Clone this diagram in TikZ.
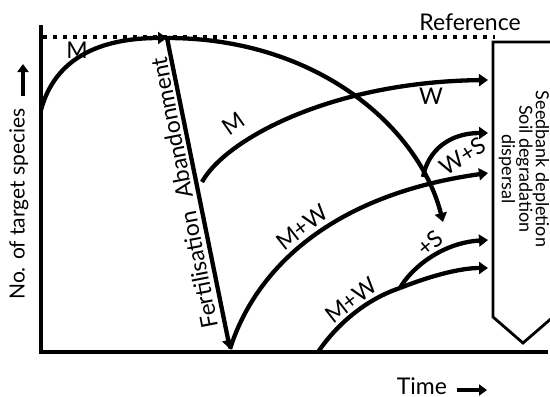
\documentclass[tikz,border=0pt]{standalone}
\usepackage{fontspec}
\setmainfont{Lato}
\usetikzlibrary{arrows.meta}

\begin{document}
\begin{tikzpicture}[x=1pt,y=-1pt,
	crv/.style={line width=4.3pt},
	arr/.style={-{Triangle[length=9pt,width=12pt]}},
	lbl/.style={font=\fontsize{23}{27}\selectfont,inner sep=0pt},
	boxtext/.style={font=\fontsize{18}{16.5}\selectfont,inner sep=0pt,align=center}]

		\useasboundingbox (0,0) rectangle (550,397);
		\clip (0,0) rectangle (550,397);

		\coordinate (T) at (41,25);
		\coordinate (O) at (41,352);
		\coordinate (R) at (548,352);

		\draw [line width=4.5pt] (T) -- (O) -- (R);

		\coordinate (RefL) at (43,37);
		\coordinate (RefR) at (495,37);
		\draw [line width=3.5pt, dash pattern=on 4pt off 6pt] (RefL) -- (RefR);
		\node [lbl, anchor=base] (ref) at (470,30) {Reference};

		\draw [line width=2.8pt, line join=miter] (552,42) -- (493,42) -- (493,317) -- (523,343) -- (553,317);
		\node [boxtext, rotate=-90] (box) at (524,169) {Seedbank depletion\\Soil degradation\\dispersal};

		\coordinate (S) at (41,110);
		\coordinate (P) at (167,38);
		\coordinate (F) at (230,349);
		\coordinate (A) at (202,182);
		\coordinate (D) at (443,222);
		\coordinate (X) at (423,177);
		\coordinate (B) at (400,288);
		\coordinate (Z) at (318,352);

		\coordinate (E1) at (488,80);
		\coordinate (E2) at (488,133);
		\coordinate (E3) at (488,173);
		\coordinate (E4) at (488,240);
		\coordinate (E5) at (488,268);

		\draw [crv,arr] (S) .. controls (55,58) and (100,38) .. (P);
		\draw [crv,arr] (P) .. controls (320,38) and (420,130) .. (D);
		\draw [crv,arr] (P) -- (F);
		\draw [crv,arr] (A) .. controls (225,140) and (330,82) .. (E1);
		\draw [crv,arr] (F) .. controls (255,270) and (330,195) .. (E3);
		\draw [crv,arr] (X) .. controls (428,150) and (450,133) .. (E2);
		\draw [crv] (Z) .. controls (340,320) and (370,298) .. (B);
		\draw [crv,arr] (B) .. controls (410,270) and (440,243) .. (E4);
		\draw [crv,arr] (B) .. controls (430,276) and (460,268) .. (E5);

		\node [lbl] (m1) at (77,50) {M};
		\node [lbl, rotate=101] (aband) at (172,128) {Abandonment};
		\node [lbl, rotate=101] (fert) at (199,270) {Fertilisation};
		\node [lbl, rotate=35] (m2) at (234,124) {M};
		\node [lbl] (w) at (431,96) {W};
		\node [lbl, rotate=33] (ws) at (463,156) {W+S};
		\node [lbl, rotate=38] (mw1) at (302,227) {M+W};
		\node [lbl, rotate=40] (ps) at (430,243) {+S};
		\node [lbl, rotate=38] (mw2) at (351,300) {M+W};

		\node [lbl, font=\fontsize{21}{25}\selectfont, rotate=90] (ylab) at (19,204) {No. of target species};
		\coordinate (Ya) at (23,96);
		\coordinate (Yb) at (23,64);
		\draw [line width=3.8pt, -{Triangle[length=8pt,width=11pt]}] (Ya) -- (Yb);

		\node [lbl, anchor=base] (time) at (422,394) {Time};
		\coordinate (Ta) at (457,390);
		\coordinate (Tb) at (487,390);
		\draw [line width=3.8pt, -{Triangle[length=8pt,width=11pt]}] (Ta) -- (Tb);
\end{tikzpicture}
\end{document}
